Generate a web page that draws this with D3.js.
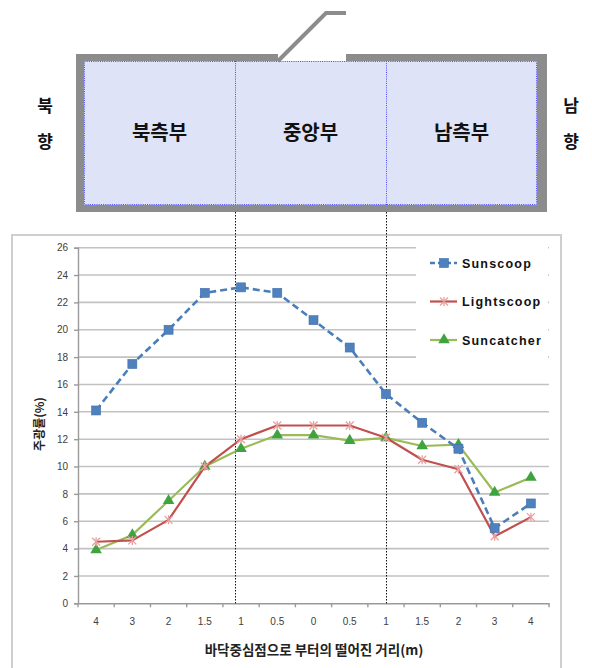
<!DOCTYPE html>
<html>
<head>
<meta charset="utf-8">
<script src="https://cdn.jsdelivr.net/npm/d3@7"></script>
<style>
  html, body { margin: 0; padding: 0; background: #fff; }
  svg { display: block; }
  .kr { font-family: "Noto Sans CJK KR", "Noto Sans", sans-serif; font-weight: 700; }
  .lat { font-family: "Liberation Sans", Arial, sans-serif; }
</style>
</head>
<body>
<svg id="chart" width="592" height="668"></svg>
<script>
// Distance labels from the floor centre (m), north side -> centre -> south side
const distances = ["4", "3", "2", "1.5", "1", "0.5", "0", "0.5", "1", "1.5", "2", "3", "4"];

// Daylight factor (%) per position
const sunscoop   = [14.1, 17.5, 20.0, 22.7, 23.1, 22.7, 20.7, 18.7, 15.3, 13.2, 11.3, 5.5, 7.3];
const lightscoop = [4.5, 4.6, 6.1, 10.0, 12.0, 13.0, 13.0, 13.0, 12.1, 10.5, 9.8, 4.9, 6.3];
const suncatcher = [3.9, 5.0, 7.5, 10.0, 11.3, 12.3, 12.3, 11.9, 12.1, 11.5, 11.6, 8.1, 9.2];

const yTicks = [0, 2, 4, 6, 8, 10, 12, 14, 16, 18, 20, 22, 24, 26];

const zoneLabels = ["북측부", "중앙부", "남측부"];

const seriesNames = ["Sunscoop", "Lightscoop", "Suncatcher"];

const svg = d3.select("#chart");

// ---------- building section diagram ----------
const house = { x0: 76, y0: 54, x1: 547, y1: 212, wall: 8 };
const inner = { x0: house.x0 + house.wall, y0: house.y0 + 7, x1: house.x1 - 10, y1: house.y1 - 7 };
const roofGap = { a: 278, b: 346 };
const wallColor = "#8c8c8c";

// outer wall (grey) with opening in the roof
svg.append("rect")
  .attr("x", house.x0).attr("y", house.y0)
  .attr("width", house.x1 - house.x0).attr("height", house.y1 - house.y0)
  .attr("fill", wallColor);
// room interior
svg.append("rect")
  .attr("x", inner.x0).attr("y", inner.y0)
  .attr("width", inner.x1 - inner.x0).attr("height", inner.y1 - inner.y0)
  .attr("fill", "#dfe3f7");
// roof opening
svg.append("rect")
  .attr("x", roofGap.a).attr("y", house.y0 - 1)
  .attr("width", roofGap.b - roofGap.a).attr("height", inner.y0 - house.y0 + 1)
  .attr("fill", "#fff");
// dotted blue outline of the room
svg.append("rect")
  .attr("x", inner.x0 + 0.5).attr("y", inner.y0 + 0.5)
  .attr("width", inner.x1 - inner.x0 - 1).attr("height", inner.y1 - inner.y0 - 1)
  .attr("fill", "none").attr("stroke", "#4a4af5").attr("stroke-width", 1)
  .attr("stroke-dasharray", "1,1.2");

// roof scoop
svg.append("path")
  .attr("d", `M${roofGap.a},${inner.y0} L${326},${13} L${roofGap.b},${13}`)
  .attr("fill", "none").attr("stroke", wallColor).attr("stroke-width", 4)
  .attr("stroke-linejoin", "miter");

// zone dividers
const zoneW = (inner.x1 - inner.x0) / 3;
const dividerX = [1, 2].map(i => Math.round(inner.x0 + zoneW * i) + 0.5);
dividerX.forEach(x => {
  svg.append("line")
    .attr("x1", x).attr("x2", x).attr("y1", inner.y0).attr("y2", inner.y1)
    .attr("stroke", "#4a4af5").attr("stroke-width", 1).attr("stroke-dasharray", "1,1.2");
});

zoneLabels.forEach((t, i) => {
  svg.append("text").attr("class", "kr")
    .attr("x", inner.x0 + zoneW * (i + 0.5)).attr("y", 140)
    .attr("text-anchor", "middle").attr("font-size", 20).attr("fill", "#111")
    .text(t);
});

// orientation labels
[["북", "향", 45], ["남", "향", 571]].forEach(([a, b, x]) => {
  svg.append("text").attr("class", "kr").attr("x", x).attr("y", 112)
    .attr("text-anchor", "middle").attr("font-size", 17).attr("fill", "#111").text(a);
  svg.append("text").attr("class", "kr").attr("x", x).attr("y", 148)
    .attr("text-anchor", "middle").attr("font-size", 17).attr("fill", "#111").text(b);
});

// ---------- chart ----------
const frame = { x: 12, y: 235, w: 549, h: 440 };
svg.append("rect")
  .attr("x", frame.x).attr("y", frame.y).attr("width", frame.w).attr("height", frame.h)
  .attr("fill", "#fff").attr("stroke", "#cfcfcf").attr("stroke-width", 2);

const plot = { left: 78, right: 549, top: 247.7, bottom: 603.3 };

const x = d3.scaleBand()
  .domain(d3.range(distances.length))
  .range([plot.left, plot.right])
  .paddingInner(0).paddingOuter(0);

const y = d3.scaleLinear().domain([0, 26]).range([plot.bottom, plot.top]);

// gridlines
svg.append("g")
  .selectAll("line").data(yTicks.filter(d => d > 0)).join("line")
  .attr("x1", plot.left).attr("x2", plot.right)
  .attr("y1", d => y(d)).attr("y2", d => y(d))
  .attr("stroke", "#c2c2c2").attr("stroke-width", 1.6);

// y axis
const yAxis = svg.append("g")
  .attr("transform", `translate(${plot.left},0)`)
  .call(d3.axisLeft(y).tickValues(yTicks).tickSize(4).tickPadding(6));
yAxis.select(".domain").attr("stroke", "#9a9a9a").attr("stroke-width", 1.4);
yAxis.selectAll(".tick line").attr("stroke", "#9a9a9a").attr("stroke-width", 1.4);
yAxis.selectAll(".tick text")
  .attr("class", "lat").attr("font-size", 10).attr("fill", "#404040");

// x axis (ticks at category boundaries)
const xAxis = svg.append("g")
  .attr("transform", `translate(0,${plot.bottom})`)
  .call(d3.axisBottom(x).tickFormat(i => distances[i]).tickSize(0).tickPadding(15));
xAxis.select(".domain").attr("stroke", "#9a9a9a").attr("stroke-width", 1.4);
xAxis.selectAll(".tick text")
  .attr("class", "lat").attr("font-size", 10).attr("fill", "#404040");
xAxis.selectAll(".bound").data(d3.range(distances.length + 1)).join("line")
  .attr("class", "bound")
  .attr("x1", i => plot.left + x.step() * i).attr("x2", i => plot.left + x.step() * i)
  .attr("y1", 0).attr("y2", 4)
  .attr("stroke", "#9a9a9a").attr("stroke-width", 1.4);

// dotted guides from the zone dividers down to the axis
dividerX.forEach(xx => {
  svg.append("line")
    .attr("x1", xx).attr("x2", xx).attr("y1", house.y1).attr("y2", plot.bottom)
    .attr("stroke", "#111").attr("stroke-width", 1).attr("stroke-dasharray", "1.5,1.5");
});

const cx = i => x(i) + x.bandwidth() / 2;
const lineGen = d3.line().x((d, i) => cx(i)).y(d => y(d));

const styles = [
  { data: sunscoop, stroke: "#4a7ebb", width: 2.6, dash: "7,4", marker: "square", mfill: "#4f81bd" },
  { data: lightscoop, stroke: "#c0504d", width: 2.2, dash: null, marker: "star", mfill: "#e8a0a0" },
  { data: suncatcher, stroke: "#9bbb59", width: 2.2, dash: null, marker: "triangle", mfill: "#3fa33f" }
];

function drawMarker(g, type, px, py, color) {
  if (type === "square") {
    g.append("rect").attr("x", px - 4.5).attr("y", py - 4.5).attr("width", 9).attr("height", 9)
      .attr("fill", color).attr("stroke", "#3f6fae").attr("stroke-width", 0.6);
  } else if (type === "triangle") {
    g.append("path").attr("d", d3.symbol(d3.symbolTriangle, 58)())
      .attr("transform", `translate(${px},${py})`).attr("fill", color);
  } else {
    g.append("path")
      .attr("d", `M${px - 4},${py - 4}L${px + 4},${py + 4}M${px - 4},${py + 4}L${px + 4},${py - 4}M${px},${py - 4.5}L${px},${py + 4.5}`)
      .attr("stroke", color).attr("stroke-width", 1.3).attr("fill", "none");
  }
}

// series drawn bottom to top: Suncatcher, Lightscoop, Sunscoop
[2, 1, 0].forEach(k => {
  const s = styles[k];
  const g = svg.append("g");
  g.append("path").datum(s.data)
    .attr("d", lineGen).attr("fill", "none")
    .attr("stroke", s.stroke).attr("stroke-width", s.width)
    .attr("stroke-dasharray", s.dash)
    .attr("stroke-linejoin", "round");
  s.data.forEach((v, i) => drawMarker(g, s.marker, cx(i), y(v), s.mfill));
});

// legend on a white panel over the gridlines
const legend = svg.append("g");
legend.append("rect").attr("x", 416).attr("y", 240).attr("width", 132).attr("height", 130)
  .attr("fill", "#fff");
seriesNames.forEach((name, k) => {
  const s = styles[k];
  const ly = 263 + k * 38.5;
  legend.append("line").attr("x1", 430).attr("x2", 457).attr("y1", ly).attr("y2", ly)
    .attr("stroke", s.stroke).attr("stroke-width", s.width).attr("stroke-dasharray", s.dash ? "5,3" : null);
  drawMarker(legend, s.marker, 444, ly, s.mfill);
  legend.append("text").attr("class", "lat")
    .attr("x", 462).attr("y", ly + 4.5)
    .attr("font-size", 12.5).attr("font-weight", 700).attr("letter-spacing", 1.2)
    .attr("fill", "#111").text(name);
});

// axis titles
svg.append("text").attr("class", "kr")
  .attr("transform", `translate(44,424) rotate(-90)`)
  .attr("text-anchor", "middle").attr("font-size", 12).attr("fill", "#222")
  .text("주광률(%)");

svg.append("text").attr("class", "kr")
  .attr("x", 314).attr("y", 655)
  .attr("text-anchor", "middle").attr("font-size", 13.5).attr("fill", "#222")
  .text("바닥중심점으로 부터의 떨어진 거리(m)");
</script>
</body>
</html>
